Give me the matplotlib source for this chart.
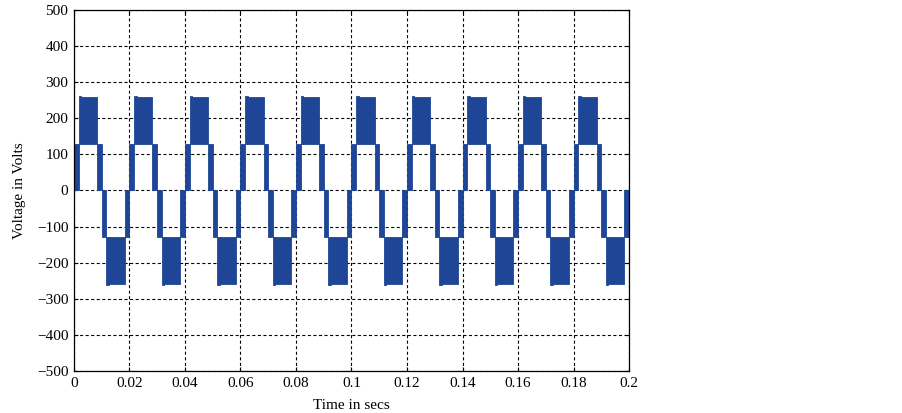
import numpy as np
import matplotlib
matplotlib.use("Agg")
import matplotlib.pyplot as plt

# one cycle of the 5-level inverter output
# each band is a filled PWM region between two voltage levels
BAND_START = [0.0000, 0.0017, 0.0026, 0.0083, 0.0100, 0.0117, 0.0126, 0.0183]
BAND_END = [0.0017, 0.0026, 0.0083, 0.0100, 0.0117, 0.0126, 0.0183, 0.0200]
BAND_LOW = [0, 130, 130, 0, -130, -263, -259, -130]
BAND_HIGH = [130, 263, 259, 130, 0, -130, -130, 0]

PERIOD = 0.02
N_CYCLES = 10

XTICKS = [0, 0.02, 0.04, 0.06, 0.08, 0.1, 0.12, 0.14, 0.16, 0.18, 0.2]
XTICK_LABELS = ["0", "0.02", "0.04", "0.06", "0.08", "0.1", "0.12", "0.14", "0.16", "0.18", "0.2"]
YTICKS = [-500, -400, -300, -200, -100, 0, 100, 200, 300, 400, 500]

WAVE_COLOR = "#1f4596"

plt.rcParams['font.family'] = ['Liberation Serif', 'DejaVu Serif']
plt.rcParams['font.size'] = 11

fig = plt.figure(figsize=(9.03, 4.13), dpi=100)
ax = fig.add_axes([0.0819, 0.1017, 0.6147, 0.8741])

for cycle in range(N_CYCLES):
    offset = cycle * PERIOD
    for t0, t1, lo, hi in zip(BAND_START, BAND_END, BAND_LOW, BAND_HIGH):
        ax.fill_between([t0 + offset, t1 + offset], [lo, lo], [hi, hi],
                        color=WAVE_COLOR, linewidth=0.6, edgecolor=WAVE_COLOR, zorder=3)

ax.set_xlim(0, 0.2)
ax.set_ylim(-500, 500)
ax.set_xticks(XTICKS)
ax.set_xticklabels(XTICK_LABELS)
ax.set_yticks(YTICKS)
ax.tick_params(direction='in', length=3, width=0.8, top=True, right=True, pad=4)

ax.grid(True, color='black', linestyle=(0, (2.8, 2.2)), linewidth=0.8)
ax.set_axisbelow(True)
for spine in ax.spines.values():
    spine.set_linewidth(0.9)
    spine.set_zorder(4)

ax.set_xlabel("Time in secs", labelpad=7)
ax.set_ylabel("Voltage in Volts", labelpad=8)

plt.savefig("out.png", dpi=100)
